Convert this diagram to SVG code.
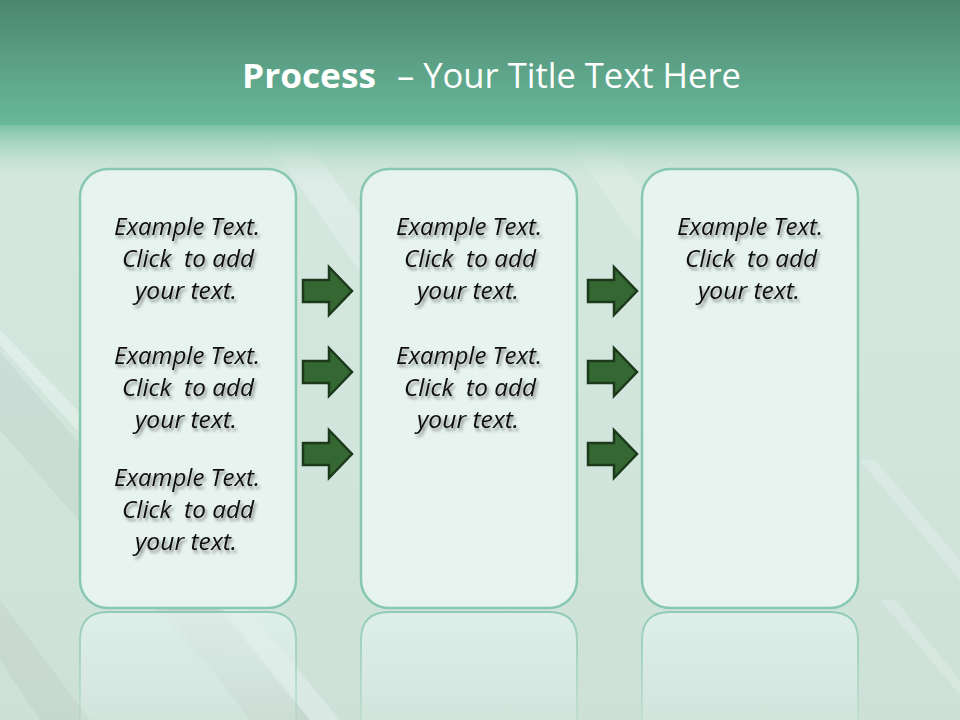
<svg xmlns="http://www.w3.org/2000/svg" width="960" height="720" viewBox="0 0 960 720">
<defs>
<linearGradient id="bg" x1="0" y1="0" x2="0" y2="1">
<stop offset="0" stop-color="#d6e9e1"/>
<stop offset="0.5" stop-color="#d3e6de"/>
<stop offset="1" stop-color="#cde1d8"/>
</linearGradient>
<linearGradient id="band" x1="0" y1="0" x2="0" y2="1">
<stop offset="0" stop-color="#4b8570"/>
<stop offset="0.45" stop-color="#5a9e84"/>
<stop offset="1" stop-color="#68b89a"/>
</linearGradient>
<linearGradient id="fade" x1="0" y1="0" x2="0" y2="1">
<stop offset="0" stop-color="#7cc2a6"/>
<stop offset="0.5" stop-color="#b2dac9" stop-opacity="0.7"/>
<stop offset="1" stop-color="#d3e6de" stop-opacity="0"/>
</linearGradient>
<linearGradient id="refl" x1="0" y1="0" x2="0" y2="1">
<stop offset="0" stop-color="#e2f1ec" stop-opacity="0.8"/>
<stop offset="1" stop-color="#e2f1ec" stop-opacity="0.2"/>
</linearGradient>
<linearGradient id="reflStroke" x1="0" y1="0" x2="0" y2="1">
<stop offset="0" stop-color="#8ac9b2" stop-opacity="0.9"/>
<stop offset="1" stop-color="#8ac9b2" stop-opacity="0.2"/>
</linearGradient>
<filter id="shadow" x="-10%" y="-20%" width="130%" height="160%">
<feDropShadow dx="2" dy="3" stdDeviation="1.8" flood-color="#404040" flood-opacity="0.55"/>
</filter>
<path id="arrow" d="M0,-11 H26 V-24 L49,0 L26,24 V11 H0 Z"/>
</defs>
<style>
.box{fill:#e6f3ef;stroke:#88c8b0;stroke-width:2.5}
.rbox{fill:url(#refl);stroke:url(#reflStroke);stroke-width:2}
.txt{font-family:"Open Sans","DejaVu Sans",sans-serif;font-style:italic;font-size:23px;fill:#111;text-anchor:middle;filter:url(#shadow);white-space:pre}
.arr{fill:#356732;stroke:#1c3a1b;stroke-width:2.5;stroke-linejoin:miter}
.title{font-family:"Open Sans","DejaVu Sans",sans-serif;fill:#ffffff;font-size:34px}
</style>
<!-- background -->
<rect x="0" y="0" width="960" height="720" fill="url(#bg)"/>
<g id="streaks">
<polygon points="0,330 0,345 240,610 270,610" fill="#ffffff" opacity="0.3"/>
<polygon points="0,352 0,430 200,660 250,640" fill="#b9c9c2" opacity="0.3"/>
<polygon points="0,600 0,660 40,720 90,720" fill="#bcc8c3" opacity="0.35"/>
<polygon points="160,600 210,600 310,720 250,720" fill="#bfcbc6" opacity="0.4"/>
<polygon points="215,600 240,600 340,720 310,720" fill="#ffffff" opacity="0.25"/>
<polygon points="260,130 300,130 420,300 380,300" fill="#ffffff" opacity="0.22"/>
<polygon points="560,130 600,130 720,300 680,300" fill="#ffffff" opacity="0.18"/>
<polygon points="860,460 875,460 960,560 960,580" fill="#ffffff" opacity="0.2"/>
<polygon points="880,600 895,600 960,680 960,695" fill="#ffffff" opacity="0.2"/>
</g>
<rect x="0" y="0" width="960" height="125" fill="url(#band)"/>
<rect x="0" y="125" width="960" height="60" fill="url(#fade)"/>
<!-- title -->
<g id="title">
<text class="title" x="242" y="88" font-weight="bold" textLength="134" lengthAdjust="spacingAndGlyphs">Process</text>
<text class="title" x="397" y="88" textLength="344" lengthAdjust="spacingAndGlyphs">– Your Title Text Here</text>
</g>
<!-- reflections -->
<g id="reflections">
<path class="rbox" d="M80,720 V640 Q80,612 108,612 H268 Q296,612 296,640 V720"/>
<path class="rbox" d="M361,720 V640 Q361,612 389,612 H549 Q577,612 577,640 V720"/>
<path class="rbox" d="M642,720 V640 Q642,612 670,612 H830 Q858,612 858,640 V720"/>
</g>
<!-- nodes -->
<g id="node1">
<rect class="box" x="80" y="169" width="216" height="439" rx="28" ry="28"/>
<text class="txt" x="187" y="235" textLength="146" lengthAdjust="spacingAndGlyphs">Example Text.</text>
<text class="txt" x="188" y="267" textLength="132" lengthAdjust="spacingAndGlyphs">Click  to add</text>
<text class="txt" x="186" y="299" textLength="102" lengthAdjust="spacingAndGlyphs">your text.</text>
<text class="txt" x="187" y="364" textLength="146" lengthAdjust="spacingAndGlyphs">Example Text.</text>
<text class="txt" x="188" y="396" textLength="132" lengthAdjust="spacingAndGlyphs">Click  to add</text>
<text class="txt" x="186" y="428" textLength="102" lengthAdjust="spacingAndGlyphs">your text.</text>
<text class="txt" x="187" y="486" textLength="146" lengthAdjust="spacingAndGlyphs">Example Text.</text>
<text class="txt" x="188" y="518" textLength="132" lengthAdjust="spacingAndGlyphs">Click  to add</text>
<text class="txt" x="186" y="550" textLength="102" lengthAdjust="spacingAndGlyphs">your text.</text>
</g>
<g id="node2">
<rect class="box" x="361" y="169" width="216" height="439" rx="28" ry="28"/>
<text class="txt" x="469" y="235" textLength="146" lengthAdjust="spacingAndGlyphs">Example Text.</text>
<text class="txt" x="470" y="267" textLength="132" lengthAdjust="spacingAndGlyphs">Click  to add</text>
<text class="txt" x="468" y="299" textLength="102" lengthAdjust="spacingAndGlyphs">your text.</text>
<text class="txt" x="469" y="364" textLength="146" lengthAdjust="spacingAndGlyphs">Example Text.</text>
<text class="txt" x="470" y="396" textLength="132" lengthAdjust="spacingAndGlyphs">Click  to add</text>
<text class="txt" x="468" y="428" textLength="102" lengthAdjust="spacingAndGlyphs">your text.</text>
</g>
<g id="node3">
<rect class="box" x="642" y="169" width="216" height="439" rx="28" ry="28"/>
<text class="txt" x="750" y="235" textLength="146" lengthAdjust="spacingAndGlyphs">Example Text.</text>
<text class="txt" x="751" y="267" textLength="132" lengthAdjust="spacingAndGlyphs">Click  to add</text>
<text class="txt" x="749" y="299" textLength="102" lengthAdjust="spacingAndGlyphs">your text.</text>
</g>
<!-- connectors -->
<g id="connectors">
<use href="#arrow" class="arr" x="303" y="291"/>
<use href="#arrow" class="arr" x="303" y="372"/>
<use href="#arrow" class="arr" x="303" y="454"/>
<use href="#arrow" class="arr" x="588" y="291"/>
<use href="#arrow" class="arr" x="588" y="372"/>
<use href="#arrow" class="arr" x="588" y="454"/>
</g>
</svg>
